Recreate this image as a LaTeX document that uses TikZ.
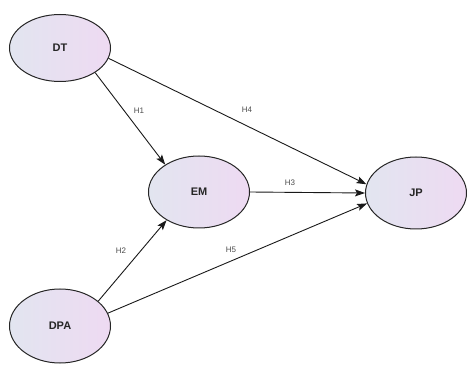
\documentclass[tikz,border=0pt]{standalone}
\usepackage{fontspec}
\setmainfont{Liberation Sans}
\usetikzlibrary{positioning,shapes,arrows.meta}
\definecolor{shadeleft}{RGB}{226,229,240}
\definecolor{shaderight}{RGB}{238,218,242}
\tikzstyle{construct}=[ellipse, draw=black!85, line width=1pt, left color=shadeleft,
        right color=shaderight, minimum width=101pt, minimum height=72pt,
        font=\bfseries\fontsize{11}{13}\selectfont, text=black!85]
\tikzstyle{path}=[draw=black!90, line width=0.9pt, -{Stealth[length=10pt,width=7pt,inset=2pt]}]
\tikzstyle{hyp}=[font=\fontsize{8}{9}\selectfont, text=black!70, inner sep=1pt]

\begin{document}
\begin{tikzpicture}[x=1pt,y=1pt]
        \useasboundingbox (0,0) rectangle (467,365);
        \node (DT) [construct, minimum height=67pt] at (60,317) {DT};
        \node (EM) [construct] at (199,173) {EM};
        \node (JP) [construct] at (416,172) {JP};
        \node (DPA) [construct, minimum height=74pt] at (60,39) {DPA};

        \draw[path] (DT.325) -- (EM.141);
        \draw[path] (DT.348) -- (JP.170);
        \draw[path] (EM.east) -- (JP.west);
        \draw[path] (DPA.33) -- (EM.221);
        \draw[path] (DPA.15) -- (JP.192);

        \node (h1) [hyp] at (139,254) {H1};
        \node (h4) [hyp] at (247,255) {H4};
        \node (h3) [hyp] at (290,182) {H3};
        \node (h2) [hyp] at (121,114) {H2};
        \node (h5) [hyp] at (231,115) {H5};
      \end{tikzpicture}
\end{document}
